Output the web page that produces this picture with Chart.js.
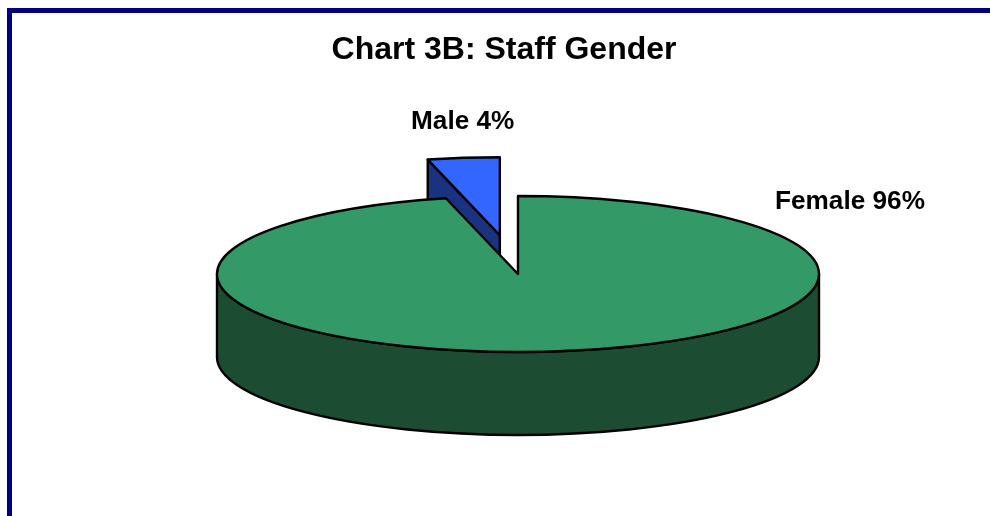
<!DOCTYPE html>
<html>
<head>
<meta charset="utf-8">
<style>
html,body{margin:0;padding:0;background:#fff;overflow:hidden;width:990px;height:516px}
#frame{position:absolute;left:7px;top:8px;width:990px;height:520px;border-left:5px solid #000080;border-top:5px solid #000080}
canvas{position:absolute;left:0;top:0}
</style>
<script src="https://cdn.jsdelivr.net/npm/chart.js@4"></script>
</head>
<body>
<div id="frame"><canvas id="c" width="984" height="503"></canvas></div>
<script>
const categories = ["Male", "Female"];
const values = [3.85, 96.15];
const explode = [0.5, 0];
const topColors = ["#3366ff", "#339966"];
const sideColors = ["#1a3380", "#1c4d33"];
const labelAnchors = [[399, 116], [763, 196]];

const CX = 506, CY = 261, RX = 301, RY = 78, DEPTH = 83;
const K = RY / RX;
const STROKE = 2.4;

function squash(ctx) {
  ctx.translate(0, CY);
  ctx.scale(1, K);
  ctx.translate(0, -CY);
}
function py(y) { return CY + (y - CY) * K; }

const pie3d = {
  id: 'pie3d',
  afterDatasetsUpdate(chart) {
    const arcs = chart.getDatasetMeta(0).data;
    arcs.forEach((a, i) => {
      const mid = (a.startAngle + a.endAngle) / 2;
      a.x = CX + Math.cos(mid) * RX * explode[i];
      a.y = CY + Math.sin(mid) * RX * explode[i];
    });
  },
  beforeDatasetsDraw(chart) {
    const ctx = chart.ctx;
    const arcs = chart.getDatasetMeta(0).data;
    ctx.save();
    ctx.lineWidth = STROKE;
    ctx.lineJoin = 'round';
    ctx.strokeStyle = '#000';
    arcs.forEach((a, i) => {
      ctx.fillStyle = sideColors[i];
      const x0 = a.x, y0 = py(a.y);
      const xs = a.x + Math.cos(a.startAngle) * RX;
      const ys = py(a.y + Math.sin(a.startAngle) * RX);
      if (xs < x0) {
        ctx.beginPath();
        ctx.moveTo(xs, ys);
        ctx.lineTo(x0, y0);
        ctx.lineTo(x0, y0 + DEPTH);
        ctx.lineTo(xs, ys + DEPTH);
        ctx.closePath();
        ctx.fill();
        ctx.stroke();
      }
      const twoPi = Math.PI * 2;
      const s = a.startAngle, e = a.endAngle;
      for (let k = -1; k <= 1; k++) {
        const from = Math.max(s, k * twoPi), to = Math.min(e, k * twoPi + Math.PI);
        if (to <= from) continue;
        ctx.beginPath();
        ctx.ellipse(a.x, y0, RX, RY, 0, from, to, false);
        ctx.ellipse(a.x, y0 + DEPTH, RX, RY, 0, to, from, true);
        ctx.closePath();
        ctx.fill();
        ctx.stroke();
      }
    });
    ctx.restore();
    ctx.save();
    squash(ctx);
  },
  afterDatasetsDraw(chart) {
    const ctx = chart.ctx;
    ctx.restore();
    const arcs = chart.getDatasetMeta(0).data;
    ctx.save();
    ctx.lineWidth = STROKE;
    ctx.lineJoin = 'round';
    ctx.strokeStyle = '#000';
    arcs.forEach(a => {
      ctx.save();
      squash(ctx);
      ctx.beginPath();
      ctx.moveTo(a.x, a.y);
      ctx.arc(a.x, a.y, RX, a.startAngle, a.endAngle);
      ctx.closePath();
      ctx.restore();
      ctx.stroke();
    });
    ctx.font = 'bold 26.2px "Liberation Sans", Arial, sans-serif';
    ctx.fillStyle = '#000';
    ctx.textAlign = 'left';
    ctx.textBaseline = 'alphabetic';
    categories.forEach((c, i) => {
      ctx.fillText(c + ' ' + Math.round(values[i]) + '%', labelAnchors[i][0], labelAnchors[i][1]);
    });
    ctx.restore();
  }
};

new Chart(document.getElementById('c'), {
  type: 'pie',
  data: {
    labels: categories,
    datasets: [{
      data: values,
      backgroundColor: topColors,
      borderWidth: 0,
      clip: false
    }]
  },
  options: {
    responsive: false,
    animation: false,
    rotation: -360 * values[0] / 100,
    radius: RX,
    plugins: {
      legend: { display: false },
      tooltip: { enabled: false },
      title: {
        display: true,
        text: 'Chart 3B: Staff Gender',
        color: '#000',
        font: { family: '"Liberation Sans", Arial, sans-serif', size: 32, weight: 'bold' },
        padding: { top: 18, bottom: 0 }
      }
    }
  },
  plugins: [pie3d]
});
</script>
</body>
</html>
